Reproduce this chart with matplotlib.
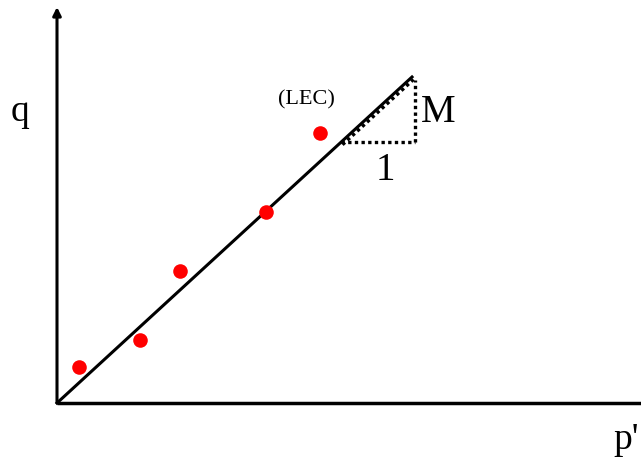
import matplotlib.pyplot as plt
import numpy as np

# measured points (p', q) in drawing units, origin at the axes corner
p_pts = [22, 83, 123, 209, 263]
q_pts = [36, 63, 132, 191, 270]

# critical state line end and slope triangle
line_end = (355, 326)
tri_start = 284

plt.rcParams['font.family'] = ['Liberation Serif', 'DejaVu Serif']

fig = plt.figure(figsize=(6.41, 4.57), dpi=100)
ax = fig.add_axes([0, 0, 1, 1])
ax.set_xlim(-57, 584)
ax.set_ylim(-54, 403)
ax.axis('off')

# axes with arrows
ax.annotate('', xy=(0, 396), xytext=(0, 0),
            arrowprops=dict(arrowstyle='-|>', color='black', lw=2.2,
                            mutation_scale=12, shrinkA=0, shrinkB=0))
ax.plot([0, 600], [0, 0], color='black', lw=2.5, solid_capstyle='butt')

# CSL
ax.plot([0, line_end[0]], [0, line_end[1]], color='black', lw=2.2)

# slope triangle
slope = line_end[1] / line_end[0]
y0 = tri_start * slope
ax.plot([tri_start, line_end[0] + 3], [y0, y0], color='black', lw=2.4, ls=(0, (1, 1)))
ax.plot([line_end[0] + 3, line_end[0] + 3], [y0, line_end[1] - 3], color='black', lw=2.4, ls=(0, (1, 1)))
# hatching under the line
xs = np.array([tri_start, line_end[0]])
ax.plot(xs + 1.5, xs * slope - 2.5, color='black', lw=2.4, ls=(0, (1, 1)))

# data
ax.scatter(p_pts, q_pts, s=110, color='red', zorder=3, linewidths=0)

ax.text(-37, 291, 'q', fontsize=27, ha='center', va='center')
ax.text(582, -37, "p'", fontsize=27, ha='right', va='center')
ax.text(381, 290, 'M', fontsize=28, ha='center', va='center')
ax.text(328, 233, '1', fontsize=28, ha='center', va='center')
ax.text(249, 303, '(LEC)', fontsize=16, ha='center', va='center')

fig.savefig('out.png', dpi=100)
